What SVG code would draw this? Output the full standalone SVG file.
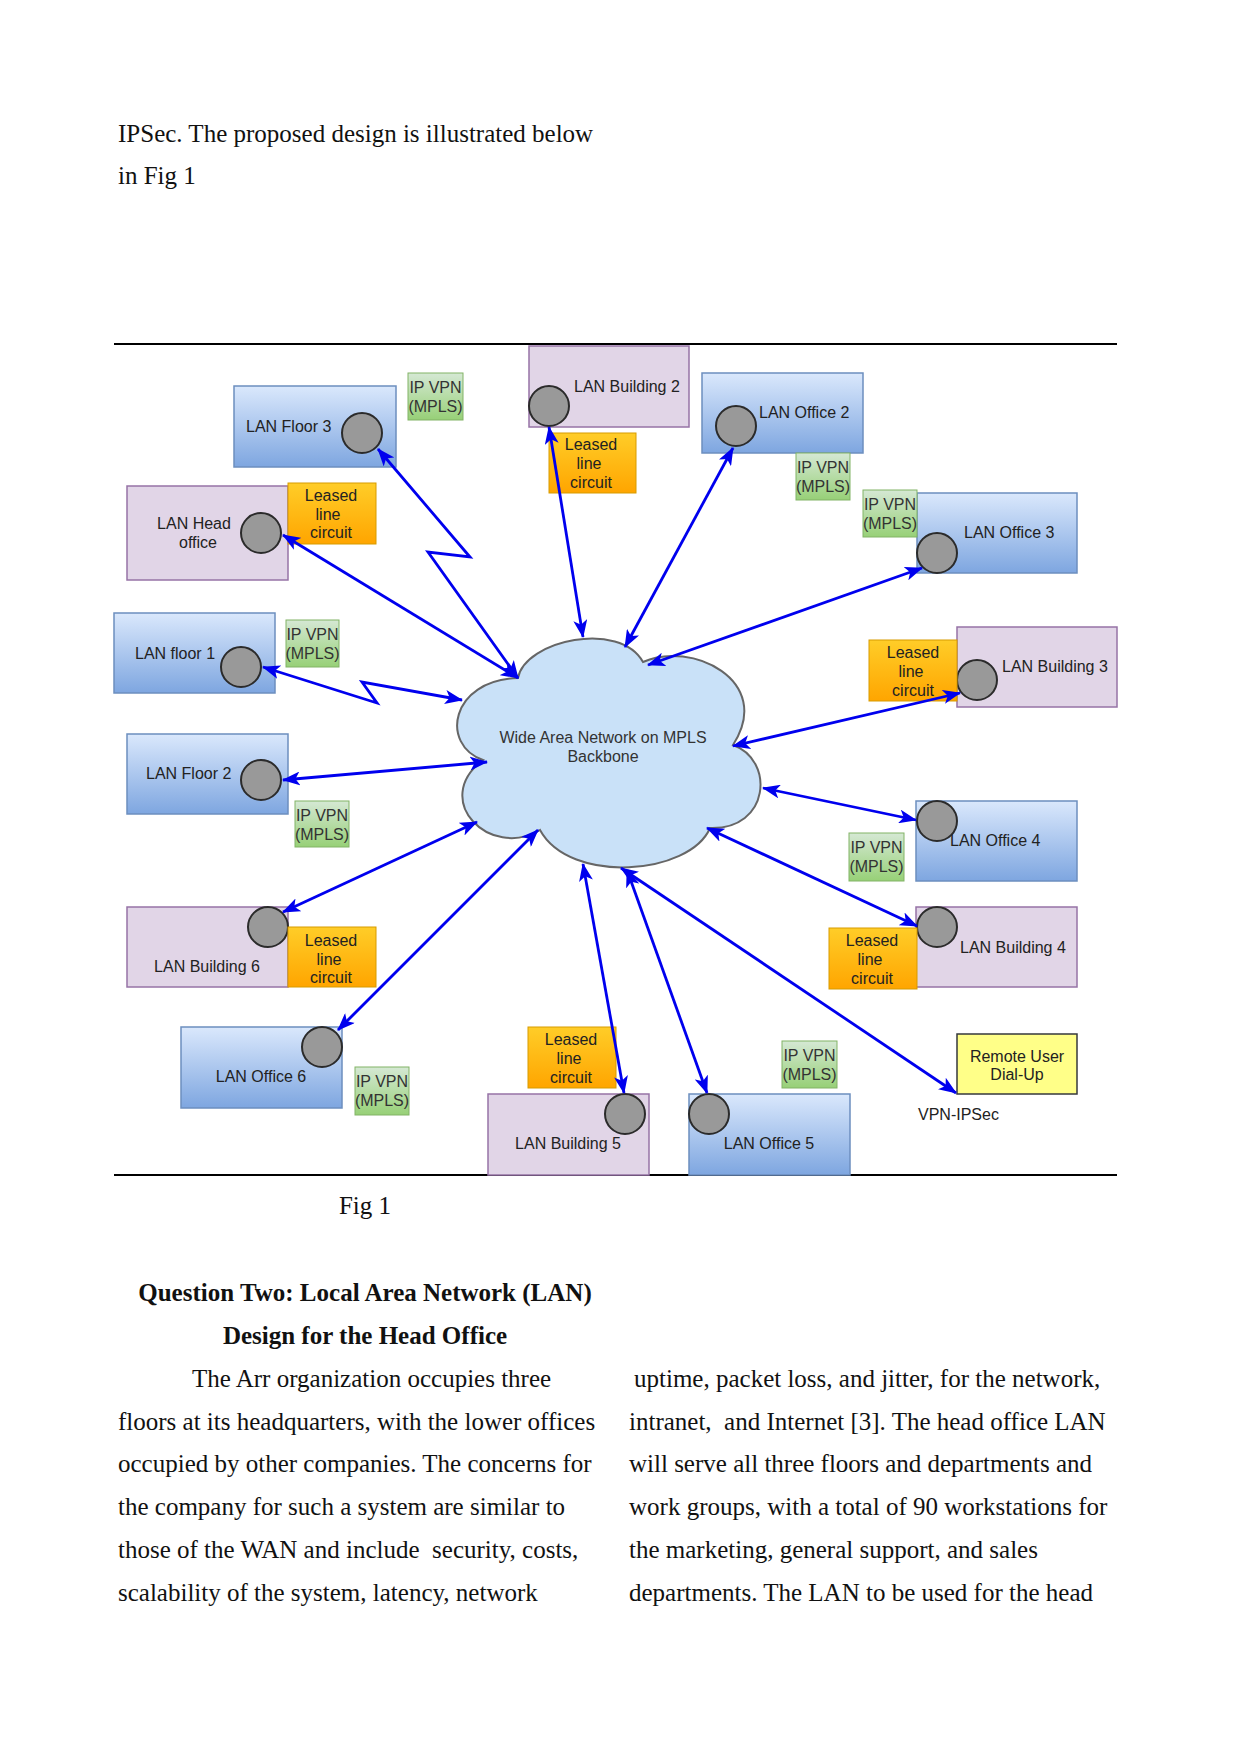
<svg xmlns="http://www.w3.org/2000/svg" width="1241" height="1754" viewBox="0 0 1241 1754">
<style>
.bg{fill:#ffffff}
.body{font-family:"Liberation Serif","Times New Roman",serif;font-size:25px;fill:#111}
.bold{font-weight:bold}
.lbl{font-family:"Liberation Sans",Arial,sans-serif;font-size:16px;fill:#222}
.sm{font-family:"Liberation Sans",Arial,sans-serif;font-size:16px;fill:#333}
.blue{fill:url(#gBlue);stroke:#6c8ebf;stroke-width:1.5}
.purple{fill:#e1d5e7;stroke:#9673a6;stroke-width:1.5}
.lease{fill:url(#gOrange);stroke:#d79b00;stroke-width:1}
.vpn{fill:url(#gGreen);stroke:#82b366;stroke-width:1}
.remote{fill:#ffff88;stroke:#36393d;stroke-width:1.5}
.port{fill:#999999;stroke:#2b2b2b;stroke-width:2}
.cloud{fill:#c9e1f8;stroke:#666666;stroke-width:2}
.link{fill:none;stroke:#0000ee;stroke-width:2.8;marker-start:url(#ah);marker-end:url(#ah)}
.rule{stroke:#000;stroke-width:2}
</style>
<defs>
<linearGradient id="gBlue" x1="0" y1="0" x2="0" y2="1"><stop offset="0" stop-color="#dae8fc"/><stop offset="1" stop-color="#7ea6e0"/></linearGradient>
<linearGradient id="gOrange" x1="0" y1="0" x2="0" y2="1"><stop offset="0" stop-color="#ffcd28"/><stop offset="1" stop-color="#ffa500"/></linearGradient>
<linearGradient id="gGreen" x1="0" y1="0" x2="0" y2="1"><stop offset="0" stop-color="#d5e8d4"/><stop offset="1" stop-color="#97d077"/></linearGradient>
<marker id="ah" viewBox="0 0 18 14" refX="17" refY="7" markerWidth="18" markerHeight="14" markerUnits="userSpaceOnUse" orient="auto-start-reverse">
<path d="M0,0 L18,7 L0,14 L4.5,7 Z" fill="#0000ee"/>
</marker>
</defs>
<rect class="bg" x="0" y="0" width="1241" height="1754"/>

<g id="text-top">
<text class="body" x="118" y="142">IPSec. The proposed design is illustrated below</text>
<text class="body" x="118" y="184">in Fig 1</text>
</g>

<line class="rule" x1="114" y1="344" x2="1117" y2="344"/>
<line class="rule" x1="114" y1="1175" x2="1117" y2="1175"/>

<g id="cloud-wan">
<path class="cloud" d="M518 678 C525 640 620 620 643 662 C690 640 775 680 733 745 C775 760 770 830 710 828 C690 875 570 885 540 830 C490 860 430 800 483 760 C440 745 450 680 518 678 Z"/>
<text class="sm" x="603" y="743" text-anchor="middle" fill="#1f2d3d">Wide Area Network on MPLS</text>
<text class="sm" x="603" y="762" text-anchor="middle" fill="#1f2d3d">Backbone</text>
</g>

<g id="lan-floor-3">
<rect class="blue" x="234" y="386" width="162" height="81"/>
<text class="lbl" x="246" y="432">LAN Floor 3</text>
<circle class="port" cx="362" cy="433" r="20"/>
</g>
<g id="vpn-floor-3">
<rect class="vpn" x="408" y="373" width="55" height="47"/>
<text class="sm" x="435.5" y="393" text-anchor="middle">IP VPN</text>
<text class="sm" x="435.5" y="412" text-anchor="middle">(MPLS)</text>
</g>

<g id="lan-head-office">
<rect class="purple" x="127" y="486" width="161" height="94"/>
<text class="lbl" x="194" y="529" text-anchor="middle">LAN Head</text>
<text class="lbl" x="198" y="548" text-anchor="middle">office</text>
<circle class="port" cx="261" cy="533" r="20"/>
</g>
<g id="leased-head-office">
<rect class="lease" x="288" y="483" width="88" height="61"/>
<text class="lbl" x="331" y="501" text-anchor="middle">Leased</text>
<text class="lbl" x="328" y="520" text-anchor="middle">line</text>
<text class="lbl" x="331" y="538" text-anchor="middle">circuit</text>
</g>

<g id="lan-building-2">
<rect class="purple" x="529" y="346" width="160" height="81"/>
<text class="lbl" x="574" y="392">LAN Building 2</text>
<circle class="port" cx="549" cy="406" r="20"/>
</g>
<g id="leased-building-2">
<rect class="lease" x="549" y="433" width="87" height="60"/>
<text class="lbl" x="591" y="450" text-anchor="middle">Leased</text>
<text class="lbl" x="589" y="469" text-anchor="middle">line</text>
<text class="lbl" x="591" y="488" text-anchor="middle">circuit</text>
</g>

<g id="lan-office-2">
<rect class="blue" x="702" y="373" width="161" height="80"/>
<text class="lbl" x="759" y="418">LAN Office 2</text>
<circle class="port" cx="736" cy="426" r="20"/>
</g>
<g id="vpn-office-2">
<rect class="vpn" x="796" y="453" width="54" height="47"/>
<text class="sm" x="823" y="473" text-anchor="middle">IP VPN</text>
<text class="sm" x="823" y="492" text-anchor="middle">(MPLS)</text>
</g>

<g id="lan-office-3">
<rect class="blue" x="917" y="493" width="160" height="80"/>
<text class="lbl" x="964" y="538">LAN Office 3</text>
<circle class="port" cx="937" cy="553" r="20"/>
</g>
<g id="vpn-office-3">
<rect class="vpn" x="863" y="490" width="54" height="47"/>
<text class="sm" x="890" y="510" text-anchor="middle">IP VPN</text>
<text class="sm" x="890" y="529" text-anchor="middle">(MPLS)</text>
</g>

<g id="lan-building-3">
<rect class="purple" x="957" y="627" width="160" height="80"/>
<text class="lbl" x="1002" y="672">LAN Building 3</text>
<circle class="port" cx="977" cy="680" r="20"/>
</g>
<g id="leased-building-3">
<rect class="lease" x="869" y="640" width="88" height="61"/>
<text class="lbl" x="913" y="658" text-anchor="middle">Leased</text>
<text class="lbl" x="911" y="677" text-anchor="middle">line</text>
<text class="lbl" x="913" y="696" text-anchor="middle">circuit</text>
</g>

<g id="lan-floor-1">
<rect class="blue" x="114" y="613" width="161" height="80"/>
<text class="lbl" x="135" y="659">LAN floor 1</text>
<circle class="port" cx="241" cy="667" r="20"/>
</g>
<g id="vpn-floor-1">
<rect class="vpn" x="286" y="620" width="53" height="47"/>
<text class="sm" x="312.5" y="640" text-anchor="middle">IP VPN</text>
<text class="sm" x="312.5" y="659" text-anchor="middle">(MPLS)</text>
</g>

<g id="lan-floor-2">
<rect class="blue" x="127" y="734" width="161" height="80"/>
<text class="lbl" x="146" y="779">LAN Floor 2</text>
<circle class="port" cx="261" cy="780" r="20"/>
</g>
<g id="vpn-floor-2">
<rect class="vpn" x="295" y="801" width="54" height="46"/>
<text class="sm" x="322" y="821" text-anchor="middle">IP VPN</text>
<text class="sm" x="322" y="840" text-anchor="middle">(MPLS)</text>
</g>

<g id="lan-office-4">
<rect class="blue" x="916" y="801" width="161" height="80"/>
<text class="lbl" x="950" y="846">LAN Office 4</text>
<circle class="port" cx="937" cy="821" r="20"/>
</g>
<g id="vpn-office-4">
<rect class="vpn" x="849" y="833" width="55" height="48"/>
<text class="sm" x="876.5" y="853" text-anchor="middle">IP VPN</text>
<text class="sm" x="876.5" y="872" text-anchor="middle">(MPLS)</text>
</g>

<g id="lan-building-4">
<rect class="purple" x="916" y="907" width="161" height="80"/>
<text class="lbl" x="960" y="953">LAN Building 4</text>
<circle class="port" cx="937" cy="927" r="20"/>
</g>
<g id="leased-building-4">
<rect class="lease" x="829" y="928" width="88" height="61"/>
<text class="lbl" x="872" y="946" text-anchor="middle">Leased</text>
<text class="lbl" x="870" y="965" text-anchor="middle">line</text>
<text class="lbl" x="872" y="984" text-anchor="middle">circuit</text>
</g>

<g id="lan-building-6">
<rect class="purple" x="127" y="907" width="161" height="80"/>
<text class="lbl" x="207" y="972" text-anchor="middle">LAN Building 6</text>
<circle class="port" cx="268" cy="927" r="20"/>
</g>
<g id="leased-building-6">
<rect class="lease" x="288" y="927" width="88" height="60"/>
<text class="lbl" x="331" y="946" text-anchor="middle">Leased</text>
<text class="lbl" x="329" y="965" text-anchor="middle">line</text>
<text class="lbl" x="331" y="983" text-anchor="middle">circuit</text>
</g>

<g id="lan-office-6">
<rect class="blue" x="181" y="1027" width="161" height="81"/>
<text class="lbl" x="261" y="1082" text-anchor="middle">LAN Office 6</text>
<circle class="port" cx="322" cy="1047" r="20"/>
</g>
<g id="vpn-office-6">
<rect class="vpn" x="355" y="1067" width="54" height="48"/>
<text class="sm" x="382" y="1087" text-anchor="middle">IP VPN</text>
<text class="sm" x="382" y="1106" text-anchor="middle">(MPLS)</text>
</g>

<g id="lan-building-5">
<rect class="purple" x="488" y="1094" width="161" height="81"/>
<text class="lbl" x="568" y="1149" text-anchor="middle">LAN Building 5</text>
<circle class="port" cx="625" cy="1114" r="20"/>
</g>
<g id="leased-building-5">
<rect class="lease" x="528" y="1027" width="88" height="61"/>
<text class="lbl" x="571" y="1045" text-anchor="middle">Leased</text>
<text class="lbl" x="569" y="1064" text-anchor="middle">line</text>
<text class="lbl" x="571" y="1083" text-anchor="middle">circuit</text>
</g>

<g id="lan-office-5">
<rect class="blue" x="689" y="1094" width="161" height="81"/>
<text class="lbl" x="769" y="1149" text-anchor="middle">LAN Office 5</text>
<circle class="port" cx="709" cy="1114" r="20"/>
</g>
<g id="vpn-office-5">
<rect class="vpn" x="782" y="1041" width="55" height="47"/>
<text class="sm" x="809.5" y="1061" text-anchor="middle">IP VPN</text>
<text class="sm" x="809.5" y="1080" text-anchor="middle">(MPLS)</text>
</g>

<g id="remote-user">
<rect class="remote" x="957" y="1034" width="120" height="60"/>
<text class="lbl" x="1017" y="1062" text-anchor="middle">Remote User</text>
<text class="lbl" x="1017" y="1080" text-anchor="middle">Dial-Up</text>
</g>
<g id="vpn-ipsec-label">
<text class="lbl" x="918" y="1120">VPN-IPSec</text>
</g>

<g id="connectors">
<path class="link" d="M378 449 L470 557 L428 552 L518 678"/>
<path class="link" d="M283 535 L518 678"/>
<path class="link" d="M549 427 L583 637"/>
<path class="link" d="M733 448 L625 647"/>
<path class="link" d="M922 568 L648 665"/>
<path class="link" d="M960 693 L733 746"/>
<path class="link" d="M263 667 L377 703 L362 682 L462 700"/>
<path class="link" d="M283 780 L487 762"/>
<path class="link" d="M916 820 L763 788"/>
<path class="link" d="M917 926 L707 828"/>
<path class="link" d="M283 912 L477 822"/>
<path class="link" d="M338 1030 L538 830"/>
<path class="link" d="M624 1093 L583 864"/>
<path class="link" d="M707 1093 L627 870"/>
<path class="link" d="M956 1093 L621 868"/>
</g>

<g id="text-bottom">
<text class="body" x="365" y="1214" text-anchor="middle">Fig 1</text>
<text class="body bold" x="365" y="1301" text-anchor="middle">Question Two: Local Area Network (LAN)</text>
<text class="body bold" x="365" y="1344" text-anchor="middle">Design for the Head Office</text>
<text class="body" x="192" y="1387">The Arr organization occupies three</text>
<text class="body" x="118" y="1430">floors at its headquarters, with the lower offices</text>
<text class="body" x="118" y="1472">occupied by other companies. The concerns for</text>
<text class="body" x="118" y="1515">the company for such a system are similar to</text>
<text class="body" x="118" y="1558" xml:space="preserve">those of the WAN and include  security, costs,</text>
<text class="body" x="118" y="1601">scalability of the system, latency, network</text>
<text class="body" x="634" y="1387">uptime, packet loss, and jitter, for the network,</text>
<text class="body" x="629" y="1430" xml:space="preserve">intranet,  and Internet [3]. The head office LAN</text>
<text class="body" x="629" y="1472">will serve all three floors and departments and</text>
<text class="body" x="629" y="1515">work groups, with a total of 90 workstations for</text>
<text class="body" x="629" y="1558">the marketing, general support, and sales</text>
<text class="body" x="629" y="1601">departments. The LAN to be used for the head</text>
</g>
</svg>
